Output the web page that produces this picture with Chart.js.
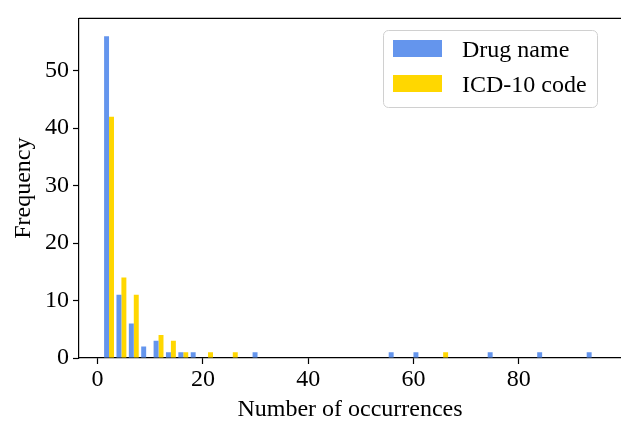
<!DOCTYPE html>
<html lang="en">
<head>
<meta charset="utf-8"/>
<title>Number of occurrences</title>
<script src="https://cdn.jsdelivr.net/npm/chart.js@4"></script>
<style>
  html, body { margin: 0; padding: 0; background: #fff; overflow: hidden; }
  #wrap { width: 621px; height: 421px; }
</style>
</head>
<body>
<div id="wrap"><canvas id="hist" width="621" height="421"></canvas></div>
<script>
// histogram bins (centres), 40 bins from 1 to 95
const binCenters = [
  2.175, 4.525, 6.875, 9.225, 11.575, 13.925, 16.275, 18.625, 20.975, 23.325,
  25.675, 28.025, 30.375, 32.725, 35.075, 37.425, 39.775, 42.125, 44.475, 46.825,
  49.175, 51.525, 53.875, 56.225, 58.575, 60.925, 63.275, 65.625, 67.975, 70.325,
  72.675, 75.025, 77.375, 79.725, 82.075, 84.425, 86.775, 89.125, 91.475, 93.825
];
const drugCounts = [
  56, 11, 6, 2, 3, 1, 1, 1, 0, 0,
  0, 0, 1, 0, 0, 0, 0, 0, 0, 0,
  0, 0, 0, 1, 0, 1, 0, 0, 0, 0,
  0, 1, 0, 0, 0, 1, 0, 0, 0, 1
];
const icdCounts = [
  42, 14, 11, 0, 4, 3, 1, 0, 1, 0,
  1, 0, 0, 0, 0, 0, 0, 0, 0, 0,
  0, 0, 0, 0, 0, 0, 0, 1, 0, 0,
  0, 0, 0, 0, 0, 0, 0, 0, 0, 0
];
const seriesNames = ['Drug name', 'ICD-10 code'];
const xTicks = [0, 20, 40, 60, 80];
const yTicks = [0, 10, 20, 30, 40, 50];

const serif = '"Liberation Serif", "Times New Roman", serif';
const font = { family: serif, size: 24 };

// top spine + matplotlib style legend box
const frameLegend = {
  id: 'frameLegend',
  afterDraw(chart) {
    const { ctx, chartArea: a } = chart;
    ctx.save();
    ctx.strokeStyle = '#000';
    ctx.lineWidth = 1.2;
    ctx.beginPath();
    ctx.moveTo(a.left, a.top);
    ctx.lineTo(chart.width, a.top);
    ctx.stroke();

    ctx.fillStyle = 'rgba(255,255,255,0.8)';
    ctx.strokeStyle = '#d0d0d0';
    ctx.lineWidth = 1;
    ctx.beginPath();
    ctx.roundRect(383.5, 30.5, 214, 77, 5);
    ctx.fill();
    ctx.stroke();

    ctx.font = '24px ' + serif;
    ctx.textBaseline = 'alphabetic';
    ctx.textAlign = 'left';
    chart.data.datasets.forEach((ds, i) => {
      const y = 40 + i * 35;
      ctx.fillStyle = ds.backgroundColor;
      ctx.fillRect(393, y, 49, 17);
      ctx.fillStyle = '#000';
      ctx.fillText(ds.label, 462, y + 16.5);
    });
    ctx.restore();
  }
};

new Chart(document.getElementById('hist'), {
  type: 'bar',
  data: {
    datasets: [
      {
        label: seriesNames[0],
        data: binCenters.map((c, i) => ({ x: c, y: drugCounts[i] })),
        backgroundColor: '#6495ED',
        borderWidth: 0
      },
      {
        label: seriesNames[1],
        data: binCenters.map((c, i) => ({ x: c, y: icdCounts[i] })),
        backgroundColor: '#FFD700',
        borderWidth: 0
      }
    ]
  },
  options: {
    responsive: false,
    animation: false,
    datasets: { bar: { categoryPercentage: 0.8, barPercentage: 1.0 } },
    layout: { padding: { top: 6, left: 0, right: 0, bottom: 0 } },
    plugins: {
      legend: { display: false },
      tooltip: { enabled: false }
    },
    scales: {
      x: {
        type: 'linear',
        min: -3.53,
        max: 99.4,
        offset: false,
        grid: { offset: false, drawOnChartArea: false, drawTicks: true, tickLength: 6, tickWidth: 1.2, tickColor: '#000' },
        border: { display: true, color: '#000', width: 1.2 },
        ticks: { font, color: '#000', padding: 1, maxRotation: 0 },
        afterBuildTicks: s => { s.ticks = xTicks.map(v => ({ value: v })); },
        afterFit: s => { s.height = 63; },
        title: {
          display: true,
          text: 'Number of occurrences',
          color: '#000',
          font: { family: serif, size: 24, lineHeight: 0.92 },
          padding: { top: 0, bottom: 0 }
        }
      },
      y: {
        min: 0,
        max: 59.1,
        grid: { drawOnChartArea: false, drawTicks: true, tickLength: 6, tickWidth: 1.2, tickColor: '#000' },
        border: { display: true, color: '#000', width: 1.2 },
        ticks: { font, color: '#000', padding: 4 },
        afterBuildTicks: s => { s.ticks = yTicks.map(v => ({ value: v })); },
        afterFit: s => { s.width = 79; },
        title: {
          display: true,
          text: 'Frequency',
          color: '#000',
          font: { family: serif, size: 24, lineHeight: 1 },
          padding: { top: 12, bottom: 0 }
        }
      }
    }
  },
  plugins: [frameLegend]
});
</script>
</body>
</html>
